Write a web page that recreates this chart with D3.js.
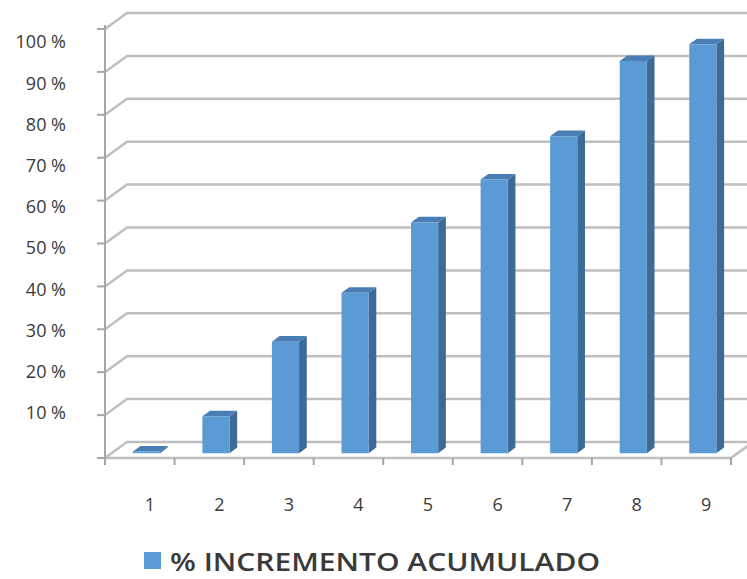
<!DOCTYPE html>
<html>
<head>
<meta charset="utf-8">
<script src="https://cdn.jsdelivr.net/npm/d3@7"></script>
<style>
  body { margin: 0; background: #fff; }
  svg { display: block; font-family: "Open Sans", sans-serif; }
</style>
</head>
<body>
<svg id="chart" width="747" height="579"></svg>
<script>
const categories = ['1', '2', '3', '4', '5', '6', '7', '8', '9'];
const values = [0.4, 8.6, 26, 37.4, 53.8, 63.8, 73.9, 91.4, 95.3];
const yTicks = [0, 10, 20, 30, 40, 50, 60, 70, 80, 90, 100];
const seriesName = '% INCREMENTO ACUMULADO';

const svg = d3.select('#chart');
const depth = { dx: 22, dy: -16 }; // back wall offset from the front plane
const barDepth = [0.3, 0.65];      // bar sits in the middle of the floor

const x = d3.scaleBand().domain(categories).range([105, 731]);
const y = d3.scaleLinear().domain([0, 100]).range([458, 29]);
// tick labels are spaced a little tighter than the ticks in the original
const yLabel = d3.scaleLinear().domain([0, 100]).range([454, 42]);

const colors = {
  front: '#5b9bd5',
  side: '#3d6b97',
  top: '#4a7db3',
  grid: '#bfbfbf',
  axis: '#a6a6a6',
  text: '#3a3a3a',
};

const pt = (px, py, d) => [px + d * depth.dx, py + d * depth.dy];
const line = d3.line();

// back wall gridlines (with the slanted piece on the side wall)
yTicks.forEach(t => {
  svg.append('path')
    .attr('d', line([pt(x.range()[0], y(t), 0), pt(x.range()[0], y(t), 1), [760, y(t) + depth.dy]]))
    .attr('fill', 'none')
    .attr('stroke', colors.grid)
    .attr('stroke-width', 2.5);
});

// floor front edge and right edge
svg.append('path')
  .attr('d', line([pt(x.range()[0], y(0), 0), pt(x.range()[1], y(0), 0), pt(x.range()[1], y(0), 1)]))
  .attr('fill', 'none')
  .attr('stroke', colors.grid)
  .attr('stroke-width', 2.5);

// front vertical axis
svg.append('line')
  .attr('x1', x.range()[0]).attr('x2', x.range()[0])
  .attr('y1', y(0)).attr('y2', y(100) - 4)
  .attr('stroke', colors.axis)
  .attr('stroke-width', 2);

svg.selectAll('.ytick')
  .data(yTicks)
  .join('line')
  .attr('class', 'ytick')
  .attr('x1', x.range()[0] - 8).attr('x2', x.range()[0])
  .attr('y1', d => y(d)).attr('y2', d => y(d))
  .attr('stroke', colors.axis)
  .attr('stroke-width', 2);

// category boundary ticks under the floor
const bounds = categories.map(c => x(c)).concat([x.range()[1]]);
svg.selectAll('.xtick')
  .data(bounds)
  .join('line')
  .attr('class', 'xtick')
  .attr('x1', d => d).attr('x2', d => d)
  .attr('y1', y(0)).attr('y2', y(0) + 7)
  .attr('stroke', colors.axis)
  .attr('stroke-width', 2);

// bars
const barW = x.bandwidth() * 0.39;
categories.forEach((c, i) => {
  const v = values[i];
  const x0 = x(c) + (x.bandwidth() - barW) / 2;
  const [d1, d2] = barDepth;
  const fTL = pt(x0, y(v), d1), fTR = pt(x0 + barW, y(v), d1);
  const fBR = pt(x0 + barW, y(0), d1), fBL = pt(x0, y(0), d1);
  const bTL = pt(x0, y(v), d2), bTR = pt(x0 + barW, y(v), d2);
  const bBR = pt(x0 + barW, y(0), d2);

  svg.append('path')
    .attr('d', line([fTR, bTR, bBR, fBR]) + 'Z')
    .attr('fill', colors.side);
  svg.append('path')
    .attr('d', line([fTL, fTR, bTR, bTL]) + 'Z')
    .attr('fill', colors.top);
  svg.append('path')
    .attr('d', line([fTL, fTR, fBR, fBL]) + 'Z')
    .attr('fill', colors.front);
});

// y labels (no label at 0)
svg.selectAll('.ylabel')
  .data(yTicks.filter(t => t > 0))
  .join('text')
  .attr('class', 'ylabel')
  .attr('x', 66)
  .attr('y', d => yLabel(d))
  .attr('dy', '0.35em')
  .attr('text-anchor', 'end')
  .attr('font-size', 18)
  .attr('fill', colors.text)
  .text(d => d + ' %');

// x labels
svg.selectAll('.xlabel')
  .data(categories)
  .join('text')
  .attr('class', 'xlabel')
  .attr('x', d => x(d) + x.bandwidth() / 2 + 10)
  .attr('y', 505)
  .attr('dy', '0.35em')
  .attr('text-anchor', 'middle')
  .attr('font-size', 18)
  .attr('fill', colors.text)
  .text(d => d);

// legend
const legend = svg.append('g').attr('transform', 'translate(144,552)');
legend.append('rect')
  .attr('width', 17).attr('height', 17)
  .attr('fill', colors.front);
legend.append('text')
  .attr('x', 26)
  .attr('y', 19)
  .attr('font-size', 25)
  .attr('font-weight', 600)
  .attr('fill', colors.text)
  .attr('textLength', 430)
  .attr('lengthAdjust', 'spacingAndGlyphs')
  .text(seriesName);
</script>
</body>
</html>
